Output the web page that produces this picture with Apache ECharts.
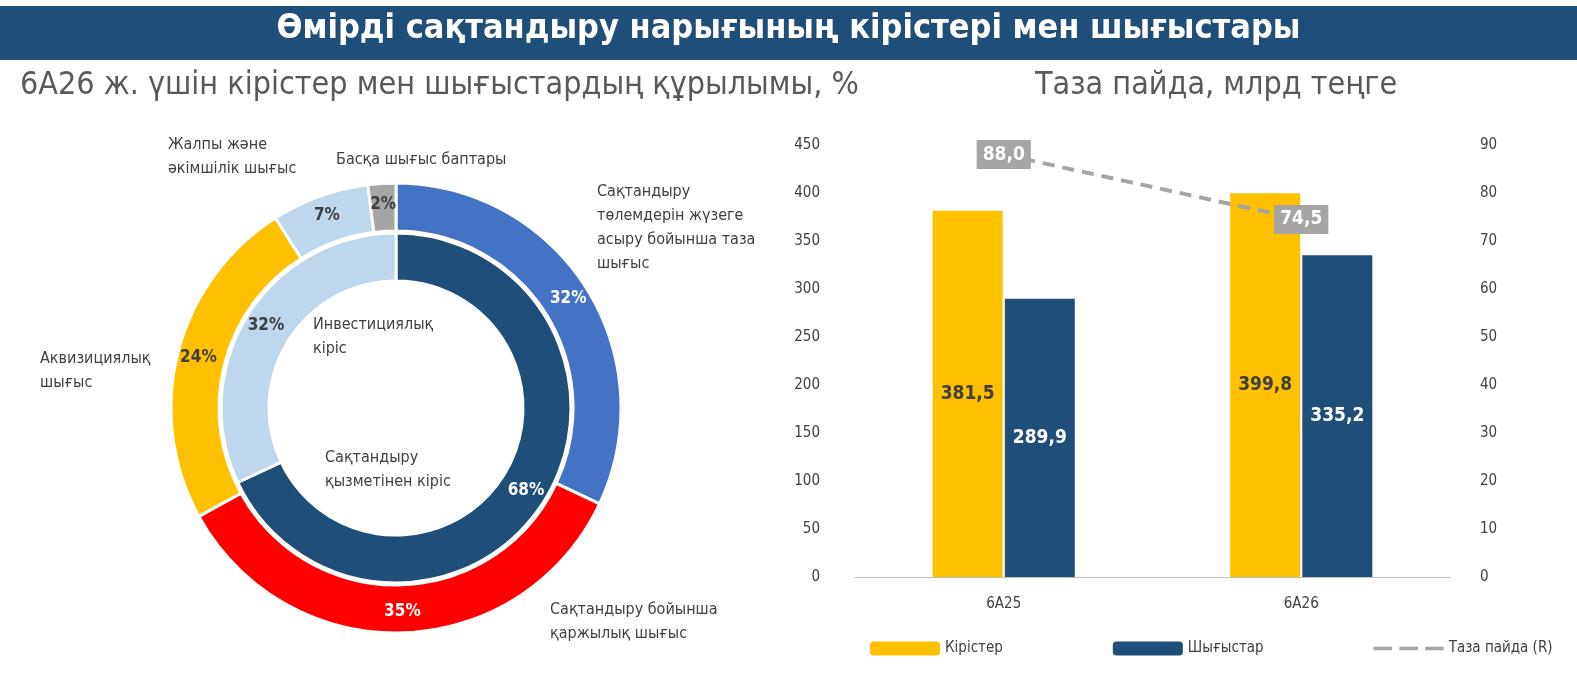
<!DOCTYPE html>
<html><head><meta charset="utf-8">
<script src="https://cdn.jsdelivr.net/npm/echarts@6/dist/echarts.min.js"></script>
<style>html,body{margin:0;padding:0;background:#fff}#c{width:1577px;height:675px}</style>
</head><body><div id="c"></div>
<script>
// Ақпарат
const outerNames = ['Сақтандыру төлемдерін жүзеге асыру бойынша таза шығыс', 'Сақтандыру бойынша қаржылық шығыс', 'Аквизициялық шығыс', 'Жалпы және әкімшілік шығыс', 'Басқа шығыс баптары']
const outerValues = [32, 35, 24, 7, 2]
const outerColors = ['#4472C4', '#FF0000', '#FFC000', '#BDD7EE', '#A5A5A5']
const innerNames = ['Сақтандыру қызметінен кіріс', 'Инвестициялық кіріс']
const innerValues = [68, 32]
const innerColors = ['#1F4E79', '#BDD7EE']
const years = ['6A25', '6A26']
const income = [381.5, 399.8]
const expense = [289.9, 335.2]
const profit = [88.0, 74.5]

const F = "'Liberation Sans Narrow','DejaVu Sans Condensed',sans-serif"
const fmt = v => v.toFixed(1).replace('.', ',')
const txt = (x, y, t, o = {}) => ({ type: 'text', left: x, top: y, style: Object.assign({ text: t, font: `16px ${F}`, fill: '#404040', lineHeight: 24 }, o) })

const chart = echarts.init(document.getElementById('c'))
chart.setOption({
  animation: false,
  textStyle: { fontFamily: F },
  graphic: [
    { type: 'rect', left: 0, top: 6, shape: { width: 1577, height: 54 }, style: { fill: '#1F4E79' } },
    { type: 'text', left: 'center', top: 12, style: { text: 'Өмірді сақтандыру нарығының кірістері мен шығыстары', font: `bold 34px ${F}`, fill: '#fff' } },
    txt(20, 70, '6A26 ж. үшін кірістер мен шығыстардың құрылымы, %', { font: `32px ${F}`, fill: '#595959' }),
    txt(1035, 70, 'Таза пайда, млрд теңге', { font: `32px ${F}`, fill: '#595959' }),
    txt(168, 133, 'Жалпы және\nәкімшілік шығыс'),
    txt(336, 148, 'Басқа шығыс баптары'),
    txt(597, 180, 'Сақтандыру\nтөлемдерін жүзеге\nасыру бойынша таза\nшығыс'),
    txt(40, 347, 'Аквизициялық\nшығыс', { align: 'right', x: 118 }),
    txt(550, 598, 'Сақтандыру бойынша\nқаржылық шығыс'),
    txt(313, 313, 'Инвестициялық\nкіріс', { align: 'center', x: 65 }),
    txt(325, 446, 'Сақтандыру\nқызметінен кіріс', { align: 'center', x: 75 })
  ],
  legend: {
    bottom: 14, left: 865, itemGap: 110, itemWidth: 70, itemHeight: 14,
    textStyle: { fontSize: 15, color: '#404040', fontFamily: F },
    data: ['Кірістер', 'Шығыстар', { name: 'Таза пайда (R)', icon: 'path://M0,0h20v4h-20zM28,0h20v4h-20zM56,0h20v4h-20z' }]
  },
  grid: { left: 855, right: 127, top: 145, bottom: 98 },
  xAxis: {
    type: 'category', data: years,
    axisLine: { lineStyle: { color: '#BFBFBF' } }, axisTick: { show: false },
    axisLabel: { margin: 20, fontSize: 15, color: '#404040' }
  },
  yAxis: [
    { min: 0, max: 450, interval: 50, splitLine: { show: false }, axisLabel: { fontSize: 15, color: '#404040', margin: 35 } },
    { min: 0, max: 90, interval: 10, splitLine: { show: false }, axisLabel: { fontSize: 15, color: '#404040', margin: 30 } }
  ],
  series: [
    { type: 'pie', radius: [177, 225], center: [396, 408], startAngle: 90, silent: true,
      data: outerNames.map((n, i) => ({ name: n, value: outerValues[i], itemStyle: { color: outerColors[i] },
        label: { color: i === 0 || i === 1 ? '#fff' : '#404040' } })),
      label: { position: 'inside', formatter: '{c}%', fontSize: 17, fontWeight: 'bold', fontFamily: F },
      itemStyle: { borderColor: '#fff', borderWidth: 3 } },
    { type: 'pie', radius: [127, 175], center: [396, 408], startAngle: 90, silent: true,
      data: innerNames.map((n, i) => ({ name: n, value: innerValues[i], itemStyle: { color: innerColors[i] },
        label: { color: i === 0 ? '#fff' : '#404040' } })),
      label: { position: 'inside', formatter: '{c}%', fontSize: 17, fontWeight: 'bold', fontFamily: F },
      itemStyle: { borderColor: '#fff', borderWidth: 3 } },
    { name: 'Кірістер', type: 'bar', data: income, barWidth: 70, barGap: '3%', itemStyle: { color: '#FFC000' },
      label: { show: true, position: 'inside', formatter: p => fmt(p.value), color: '#404040', fontSize: 19, fontWeight: 'bold' } },
    { name: 'Шығыстар', type: 'bar', data: expense, barWidth: 70, itemStyle: { color: '#1F4E79' },
      label: { show: true, position: 'inside', formatter: p => fmt(p.value), color: '#fff', fontSize: 19, fontWeight: 'bold' } },
    { name: 'Таза пайда (R)', type: 'line', yAxisIndex: 1, data: profit, symbol: 'circle', symbolSize: 1,
      lineStyle: { color: '#A5A5A5', width: 4, type: [12, 8] }, itemStyle: { color: '#A5A5A5' },
      label: { show: true, position: 'inside', formatter: p => fmt(p.value), color: '#fff', fontSize: 19, fontWeight: 'bold',
        backgroundColor: '#A5A5A5', padding: [5, 6] } }
  ]
})
</script></body></html>
